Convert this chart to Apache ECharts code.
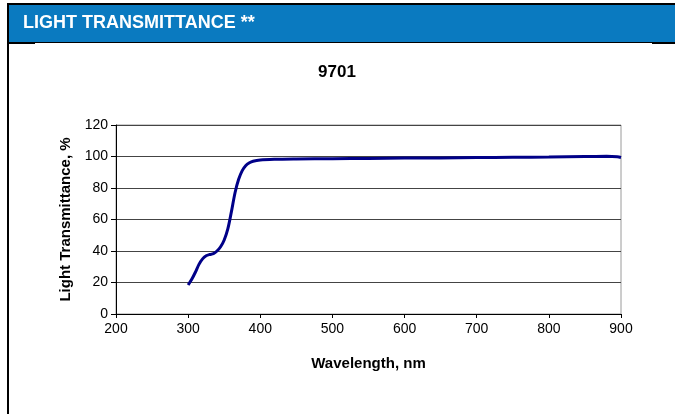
<!DOCTYPE html>
<html>
<head>
<meta charset="utf-8">
<script src="https://cdn.jsdelivr.net/npm/echarts@6/dist/echarts.min.js"></script>
<style>
html,body{margin:0;padding:0;background:#fff;}
#chart{width:675px;height:414px;}
</style>
</head>
<body>
<div id="chart"></div>
<script>
// Wavelength (nm) and light transmittance (%)
var wavelengths = [300, 305, 310, 315, 320, 325, 330, 335, 340, 345, 350, 355, 360, 365, 370, 375, 380, 385, 390, 400, 420, 450, 500, 550, 600, 650, 700, 750, 800, 850, 880, 895, 900];
var transmittance = [18.4, 22, 26.5, 31.5, 35, 37, 37.8, 38.3, 40, 42.7, 47, 54, 65, 77, 85.5, 91, 94.3, 96, 97, 97.8, 98.2, 98.4, 98.6, 98.8, 99, 99.1, 99.3, 99.5, 99.7, 100, 100.1, 99.9, 99.4];
var headerText = 'LIGHT TRANSMITTANCE **';
var chartTitle = '9701';
var xName = 'Wavelength, nm';
var yName = 'Light Transmittance, %';
var xMin = 200, xMax = 900, xStep = 100;
var yMin = 0, yMax = 120, yStep = 20;

var points = wavelengths.map(function (w, i) { return [w, transmittance[i]]; });
var font = 'Arial, "Liberation Sans", sans-serif';

var chart = echarts.init(document.getElementById('chart'), null, {renderer: 'canvas'});
chart.setOption({
  animation: false,
  backgroundColor: '#ffffff',
  title: {
    text: chartTitle,
    left: 332, top: 59, textAlign: 'center',
    textStyle: {fontFamily: font, fontSize: 17, fontWeight: 'bold', color: '#000'}
  },
  grid: {
    left: 116, right: 54, top: 125, bottom: 100,
    show: true, borderColor: '#9a9a9a', borderWidth: 1, backgroundColor: 'transparent'
  },
  xAxis: {
    type: 'value', min: xMin, max: xMax, interval: xStep,
    name: xName, nameLocation: 'middle', nameGap: 42,
    nameTextStyle: {fontFamily: font, fontSize: 15, fontWeight: 'bold', color: '#000'},
    axisLine: {show: true, lineStyle: {color: '#000', width: 1}},
    axisTick: {show: true, inside: false, length: 4, lineStyle: {color: '#000'}},
    axisLabel: {fontFamily: font, fontSize: 14, color: '#000', margin: 8},
    splitLine: {show: false}
  },
  yAxis: {
    type: 'value', min: yMin, max: yMax, interval: yStep,
    name: yName, nameLocation: 'middle', nameGap: 38, nameRotate: 90,
    nameTextStyle: {fontFamily: font, fontSize: 15, fontWeight: 'bold', color: '#000'},
    axisLine: {show: true, lineStyle: {color: '#000', width: 1}},
    axisTick: {show: true, inside: false, length: 5, lineStyle: {color: '#000'}},
    axisLabel: {fontFamily: font, fontSize: 14, color: '#000', margin: 8},
    splitLine: {show: true, lineStyle: {color: '#444', width: 1}}
  },
  series: [{
    type: 'line',
    data: points,
    smooth: 0.3,
    showSymbol: false,
    symbol: 'none',
    lineStyle: {color: '#000088', width: 3},
    z: 5
  }],
  graphic: [
    {type: 'rect', shape: {x: 7, y: 3, width: 668, height: 2}, style: {fill: '#000'}, silent: true},
    {type: 'rect', shape: {x: 9, y: 5, width: 666, height: 37}, style: {fill: '#0A7AC0'}, silent: true},
    {type: 'rect', shape: {x: 7, y: 3, width: 2, height: 411}, style: {fill: '#000'}, silent: true},
    {type: 'rect', shape: {x: 7, y: 42, width: 28, height: 2}, style: {fill: '#000'}, silent: true},
    {type: 'rect', shape: {x: 35, y: 42, width: 617, height: 1}, style: {fill: '#000'}, silent: true},
    {type: 'rect', shape: {x: 652, y: 42, width: 23, height: 2}, style: {fill: '#000'}, silent: true},
    {type: 'text', left: 23, top: 14, style: {text: headerText, fill: '#fff', font: 'bold 18px Arial, "Liberation Sans", sans-serif'}, silent: true}
  ]
});
</script>
</body>
</html>
